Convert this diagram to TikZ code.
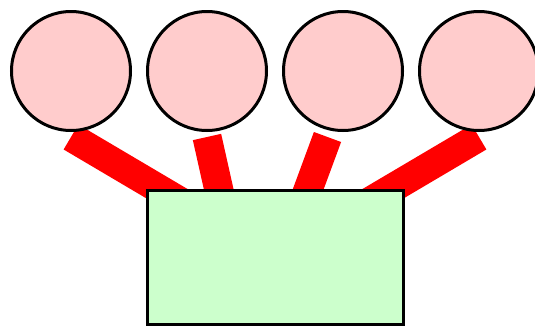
\documentclass[tikz,border=0pt]{standalone}
\usepackage{tikz}
\usetikzlibrary{positioning,calc,backgrounds}
\definecolor{ballpink}{HTML}{FFCCCC}
\definecolor{boxgreen}{HTML}{CCFFCC}
\definecolor{linkred}{HTML}{FF0000}
\tikzset{
  ball/.style={
    circle, draw=black, fill=ballpink, line width=3pt,
    minimum size=119pt, inner sep=0pt
  },
  basebox/.style={
    rectangle, draw=black, fill=boxgreen, line width=3pt,
    minimum width=256pt, minimum height=134pt,
    inner sep=0pt
  },
  link/.style={
    line width=29pt, color=#1, line cap=butt
  },
  link/.default=linkred,
}
\begin{document}
\begin{tikzpicture}[x=1pt, y=1pt, node distance=14pt]
  \useasboundingbox (0,0) rectangle (535,-327);
  % Top row of circles
  \node[ball] (c1) at (71,-71) {};
  \node[ball, right=of c1] (c2) {};
  \node[ball, right=of c2] (c3) {};
  \node[ball, right=of c3] (c4) {};
  % Base box
  \coordinate (mid) at ($(c2)!0.5!(c3)$);
  \node[basebox, below=118pt of mid] (base) {};
  % Links behind the shapes
  \begin{scope}[on background layer]
    \draw[link] ([yshift=-5pt]c1.south) -- (base.center);
    \draw[link] ([yshift=-5pt]c2.south) -- ([xshift=-41pt]base.center);
    \draw[link] ([xshift=-15.5pt,yshift=-5pt]c3.south) -- ([xshift=8pt]base.center);
    \draw[link] ([yshift=-5pt]c4.south) -- (base.center);
  \end{scope}
\end{tikzpicture}
\end{document}
